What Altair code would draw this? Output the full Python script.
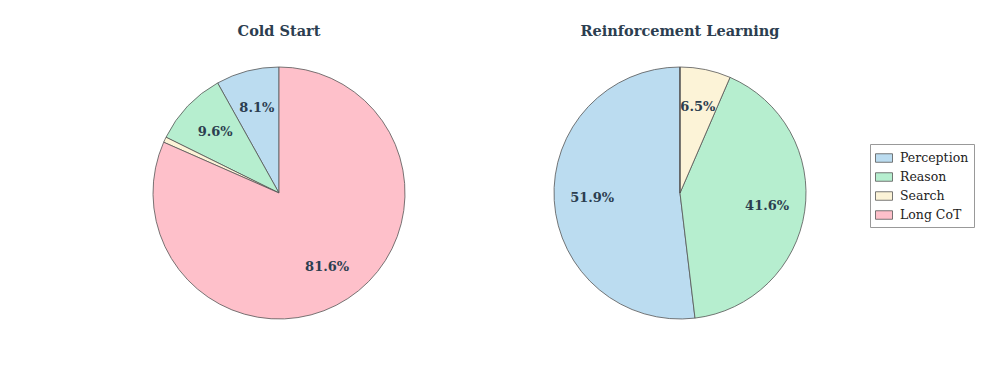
import altair as alt
import pandas as pd

categories = ["Perception", "Reason", "Search", "Long CoT"]
cold_start = [8.1, 9.6, 0.7, 81.6]
reinforcement = [51.9, 41.6, 6.5, 0.0]
colors = ["#BBDCF0", "#B6EECF", "#FCF3D7", "#FEC0CA"]
titles = ["Cold Start", "Reinforcement Learning"]

FONT = "DejaVu Serif"
TXT = "#2c3e50"


def pie(values, title, width):
    df = pd.DataFrame({
        "category": categories,
        "value": values,
        "idx": list(range(len(categories))),
        "label": [f"{v:.1f}%" if v >= 2 else "" for v in values],
    })
    base = alt.Chart(df).encode(
        theta=alt.Theta("value:Q", stack=True),
        order=alt.Order("idx:Q", sort="descending"),
    )
    arc = base.mark_arc(outerRadius=126, stroke="#555555", strokeWidth=0.8).encode(
        color=alt.Color(
            "category:N",
            scale=alt.Scale(domain=categories, range=colors),
            sort=categories,
            legend=alt.Legend(title=None),
        )
    )
    text = base.mark_text(
        radius=88, font=FONT, fontWeight="bold", fontSize=13, color=TXT
    ).encode(text="label:N")
    return alt.layer(arc, text).properties(
        width=width, height=260, title=alt.Title(title)
    )


chart = alt.hconcat(
    pie(cold_start, titles[0], 542),
    pie(reinforcement, titles[1], 260),
    spacing=0,
).properties(
    padding={"left": 0, "top": 15, "right": 0, "bottom": 0}
).configure_view(
    strokeWidth=0
).configure_title(
    font=FONT, fontSize=14.5, fontWeight="bold", color=TXT, offset=24, anchor="middle"
).configure_legend(
    orient="none",
    legendX=862,
    legendY=81,
    padding=5,
    strokeColor="#999999",
    fillColor="white",
    cornerRadius=0,
    labelFont=FONT,
    labelFontSize=12.5,
    labelColor="#222222",
    labelOffset=7,
    rowPadding=3,
    symbolType="M-1,-0.5H1V0.5H-1Z",
    symbolSize=289,
    symbolStrokeColor="#555555",
    symbolStrokeWidth=0.8,
    symbolOpacity=1,
)

chart.save("out.html", embed_options={"renderer": "svg", "actions": False})
